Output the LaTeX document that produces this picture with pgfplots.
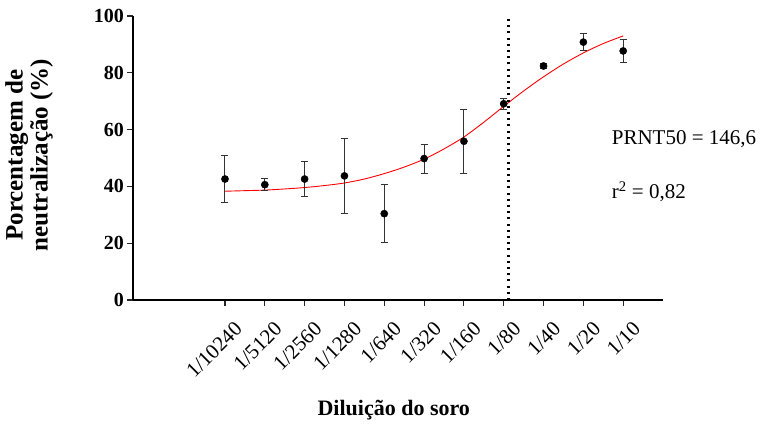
\documentclass[border=0pt]{standalone}
\usepackage{fontspec}
\setmainfont{Liberation Serif}
\usepackage{pgfplots}
\pgfplotsset{compat=1.18}
\usepackage{pgfplotstable}
\pgfplotstableread{
x y e
0 42.6 8.2
1 40.6 2.2
2 42.6 6.2
3 43.7 13.3
4 30.4 10.3
5 49.8 5.1
6 55.9 11.2
7 69.1 2.0
8 82.4 0.8
9 90.8 3.1
10 87.7 4.0
}\pointdata
\begin{document}
\begin{tikzpicture}
\useasboundingbox (0,0) rectangle (760pt,426pt);
\begin{axis}[
  at={(133pt,126pt)}, anchor=south west,
  scale only axis, width=530pt, height=284pt,
  xmin=-2.31, xmax=11.0, ymin=0, ymax=100,
  axis x line*=bottom, axis y line*=left,
  axis line style={line width=1.2pt, black},
  xtick={0,...,10},
  xticklabels={1/10240,1/5120,1/2560,1/1280,1/640,1/320,1/160,1/80,1/40,1/20,1/10},
  ytick={0,20,...,100},
  tick align=outside, major tick length=6pt,
  tick style={line width=1.1pt, black!85},
  /pgf/number format/assume math mode=true,
  yticklabel style={font=\fontsize{20}{22}\selectfont\bfseries, xshift=0pt, inner sep=3pt},
  xticklabel style={font=\fontsize{21}{24}\selectfont, rotate=45, anchor=north east, inner sep=0pt, yshift=-16pt, xshift=-4pt},
  xlabel={Diluição do soro},
  xlabel style={font=\fontsize{22}{24}\selectfont\bfseries, at={(axis description cs:0.492,-0.405)}, anchor=base},
  ylabel={Porcentagem de\\neutralização (\%)},
  ylabel style={font=\fontsize{25}{25}\selectfont\bfseries, align=center, at={(axis description cs:-0.196,0.51)}, anchor=center, rotate=0},
  clip=false,
]
\addplot[red, line width=0.9pt, smooth] coordinates {
(0,38.3) (0.5,38.5) (1,38.7) (1.5,39.1) (2,39.6) (2.5,40.3) (3,41.2) (3.5,42.6)
(4,44.5) (4.5,46.8) (5,49.6) (5.5,53.2) (6,57.4) (6.5,62.6) (7,68.2) (7.5,73.6)
(8,78.6) (8.5,83.1) (9,87.0) (9.5,90.3) (10,93.0)};
\addplot[only marks, mark=*, mark size=3.6pt, black,
  error bars/.cd, y dir=both, y explicit,
  error bar style={line width=1pt, black!80},
  error mark options={rotate=90, mark size=3.5pt, line width=1pt, black!80}]
  table[x=x, y=y, y error=e] {\pointdata};
\addplot[black, line width=2.2pt, dash pattern=on 2pt off 4.2pt] coordinates {(7.12,0) (7.12,100)};
\node[anchor=base west, inner sep=0pt, font=\fontsize{21}{24}\selectfont] at (axis cs:9.71,54.6) {PRNT50 = 146,6};
\node[anchor=base west, inner sep=0pt, font=\fontsize{21}{24}\selectfont] at (axis cs:9.71,35.6) {r\textsuperscript{2} = 0,82};
\end{axis}
\end{tikzpicture}
\end{document}
